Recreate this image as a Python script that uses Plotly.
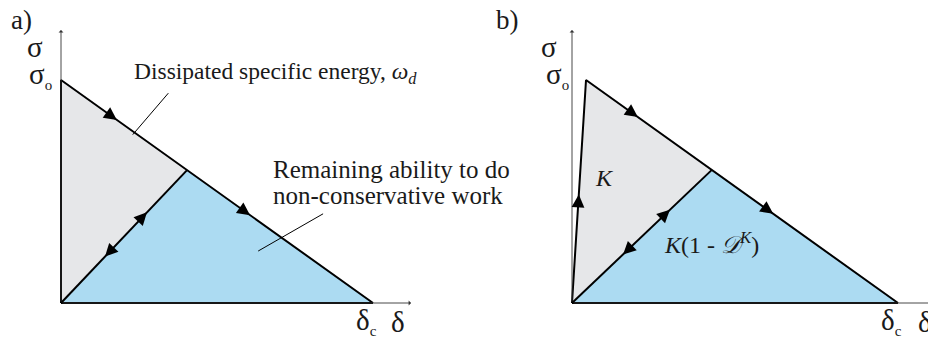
import plotly.graph_objects as go

# Normalised quantities: peak stress and critical opening
SIGMA_O = 1.0
DELTA_C = 1.0

# Panel a: rigid-softening law with an unloading/reloading branch
a_peak = [0.0, 1.0]
a_unload = [0.404, 0.596]

# Panel b: elastic loading with stiffness K, then softening
b_peak = [0.043, 1.0]
b_unload = [0.429, 0.597]

# Axis extents (arrow tips)
a_axis_end = [1.122, 1.224]
b_axis_end = [1.092, 1.224]

FONT = "Liberation Serif"
GRAY = "#e6e7e9"
BLUE = "#acdbf2"

fig = go.Figure()


def triangles(peak, unload, xa, ya):
    gx = [0, peak[0], unload[0], 0]
    gy = [0, peak[1], unload[1], 0]
    fig.add_trace(go.Scatter(x=gx, y=gy, fill="toself", fillcolor=GRAY,
                             mode="none", xaxis=xa, yaxis=ya, hoverinfo="skip"))
    bx = [0, unload[0], DELTA_C, 0]
    by = [0, unload[1], 0, 0]
    fig.add_trace(go.Scatter(x=bx, y=by, fill="toself", fillcolor=BLUE,
                             mode="none", xaxis=xa, yaxis=ya, hoverinfo="skip"))
    # loading + softening path
    fig.add_trace(go.Scatter(x=[0, peak[0], DELTA_C], y=[0, peak[1], 0],
                             mode="lines", line=dict(color="black", width=2),
                             xaxis=xa, yaxis=ya, hoverinfo="skip"))
    # unloading / reloading branch
    fig.add_trace(go.Scatter(x=[0, unload[0]], y=[0, unload[1]],
                             mode="lines", line=dict(color="black", width=2),
                             xaxis=xa, yaxis=ya, hoverinfo="skip"))
    # bottom edge
    fig.add_trace(go.Scatter(x=[0, DELTA_C], y=[0, 0],
                             mode="lines", line=dict(color="black", width=2),
                             xaxis=xa, yaxis=ya, hoverinfo="skip"))


triangles(a_peak, a_unload, "x", "y")
triangles(b_peak, b_unload, "x2", "y2")

ann = []


def head(p0, p1, t, xr, yr):
    tx = p0[0] + t * (p1[0] - p0[0])
    ty = p0[1] + t * (p1[1] - p0[1])
    k = 0.03
    ann.append(dict(x=tx, y=ty, ax=tx - k * (p1[0] - p0[0]), ay=ty - k * (p1[1] - p0[1]),
                    xref=xr, yref=yr, axref=xr, ayref=yr, text="", showarrow=True,
                    arrowhead=2, arrowsize=1.6, arrowwidth=1.6, arrowcolor="black"))


def axis_arrow(x, y, xr, yr):
    ann.append(dict(x=x, y=y, ax=0, ay=0, xref=xr, yref=yr, axref=xr, ayref=yr,
                    text="", showarrow=True, arrowhead=1, arrowsize=0.9,
                    arrowwidth=0.9, arrowcolor="#333333"))


# axes
axis_arrow(a_axis_end[0], 0, "x", "y")
axis_arrow(0, a_axis_end[1], "x", "y")
axis_arrow(b_axis_end[0] + 0.02, 0, "x2", "y2")
axis_arrow(0, b_axis_end[1], "x2", "y2")

# direction heads, panel a
a_end = [DELTA_C, 0.0]
head(a_peak, a_end, 0.179, "x", "y")
head(a_peak, a_end, 0.606, "x", "y")
head([0, 0], a_unload, 0.682, "x", "y")
head(a_unload, [0, 0], 0.651, "x", "y")

# direction heads, panel b
b_end = [DELTA_C, 0.0]
head(b_peak, b_end, 0.166, "x2", "y2")
head(b_peak, b_end, 0.600, "x2", "y2")
head([0, 0], b_unload, 0.70, "x2", "y2")
head(b_unload, [0, 0], 0.635, "x2", "y2")
head([0, 0], b_peak, 0.486, "x2", "y2")


def label(text, x, y, xr, yr, size=24, xanchor="left", yanchor="middle"):
    ann.append(dict(text=text, x=x, y=y, xref=xr, yref=yr, showarrow=False,
                    xanchor=xanchor, yanchor=yanchor,
                    font=dict(family=FONT, size=size, color="#1a1a1a")))


SUB_O = 'σ<sub><span style="font-size:15px">o</span></sub>'
SUB_C = 'δ<sub><span style="font-size:15px">c</span></sub>'

# panel a labels
label("a)", -0.128, 1.27, "x", "y", size=27, xanchor="center")
label("σ", -0.083, 1.15, "x", "y", size=29, xanchor="center")
label(SUB_O, -0.108, 1.02, "x", "y", size=29)
label('Dissipated specific energy, <i>ω</i><sub><i>d</i></sub>', 0.226, 1.03, "x", "y", size=23.5)
label("Remaining ability to do", 0.674, 0.6, "x", "y", size=25)
label("non-conservative work", 0.674, 0.483, "x", "y", size=25)
label(SUB_C, 0.94, -0.085, "x", "y", size=29)
label("δ", 1.05, -0.085, "x", "y", size=29)

# panel b labels
label("b)", -0.199, 1.27, "x2", "y2", size=27, xanchor="center")
label("σ", -0.0706, 1.15, "x2", "y2", size=29, xanchor="center")
label(SUB_O, -0.085, 1.02, "x2", "y2", size=29)
label("<i>K</i>", 0.063, 0.56, "x2", "y2")
label("<i>K</i>(1 - <i>𝒟</i><sup><i>K</i></sup>)", 0.276, 0.27, "x2", "y2")
label(SUB_C, 0.943, -0.085, "x2", "y2", size=29)
label("δ", 1.056, -0.085, "x2", "y2", size=29)

# leader lines from the captions to the regions
leaders = [
    dict(x0=0.344, y0=0.941, x1=0.23, y1=0.755, xref="x", yref="y"),
    dict(x0=0.84, y0=0.40, x1=0.632, y1=0.233, xref="x", yref="y"),
]
shapes = [dict(type="line", line=dict(color="black", width=1), **d) for d in leaders]

ax_common = dict(visible=False, showgrid=False, zeroline=False, fixedrange=True)
fig.update_layout(
    width=928, height=338,
    margin=dict(l=0, r=0, t=0, b=0),
    paper_bgcolor="white", plot_bgcolor="white",
    showlegend=False,
    font=dict(family=FONT),
    xaxis=dict(domain=[0, 0.5], range=[-0.19551, 1.29167], **ax_common),
    yaxis=dict(domain=[0, 1], range=[-0.15695, 1.35874], **ax_common),
    xaxis2=dict(domain=[0.5, 1], range=[-0.33129, 1.09202], anchor="y2", **ax_common),
    yaxis2=dict(domain=[0, 1], range=[-0.15695, 1.35874], anchor="x2", **ax_common),
    annotations=ann,
    shapes=shapes,
)

fig.write_html("out.html")
